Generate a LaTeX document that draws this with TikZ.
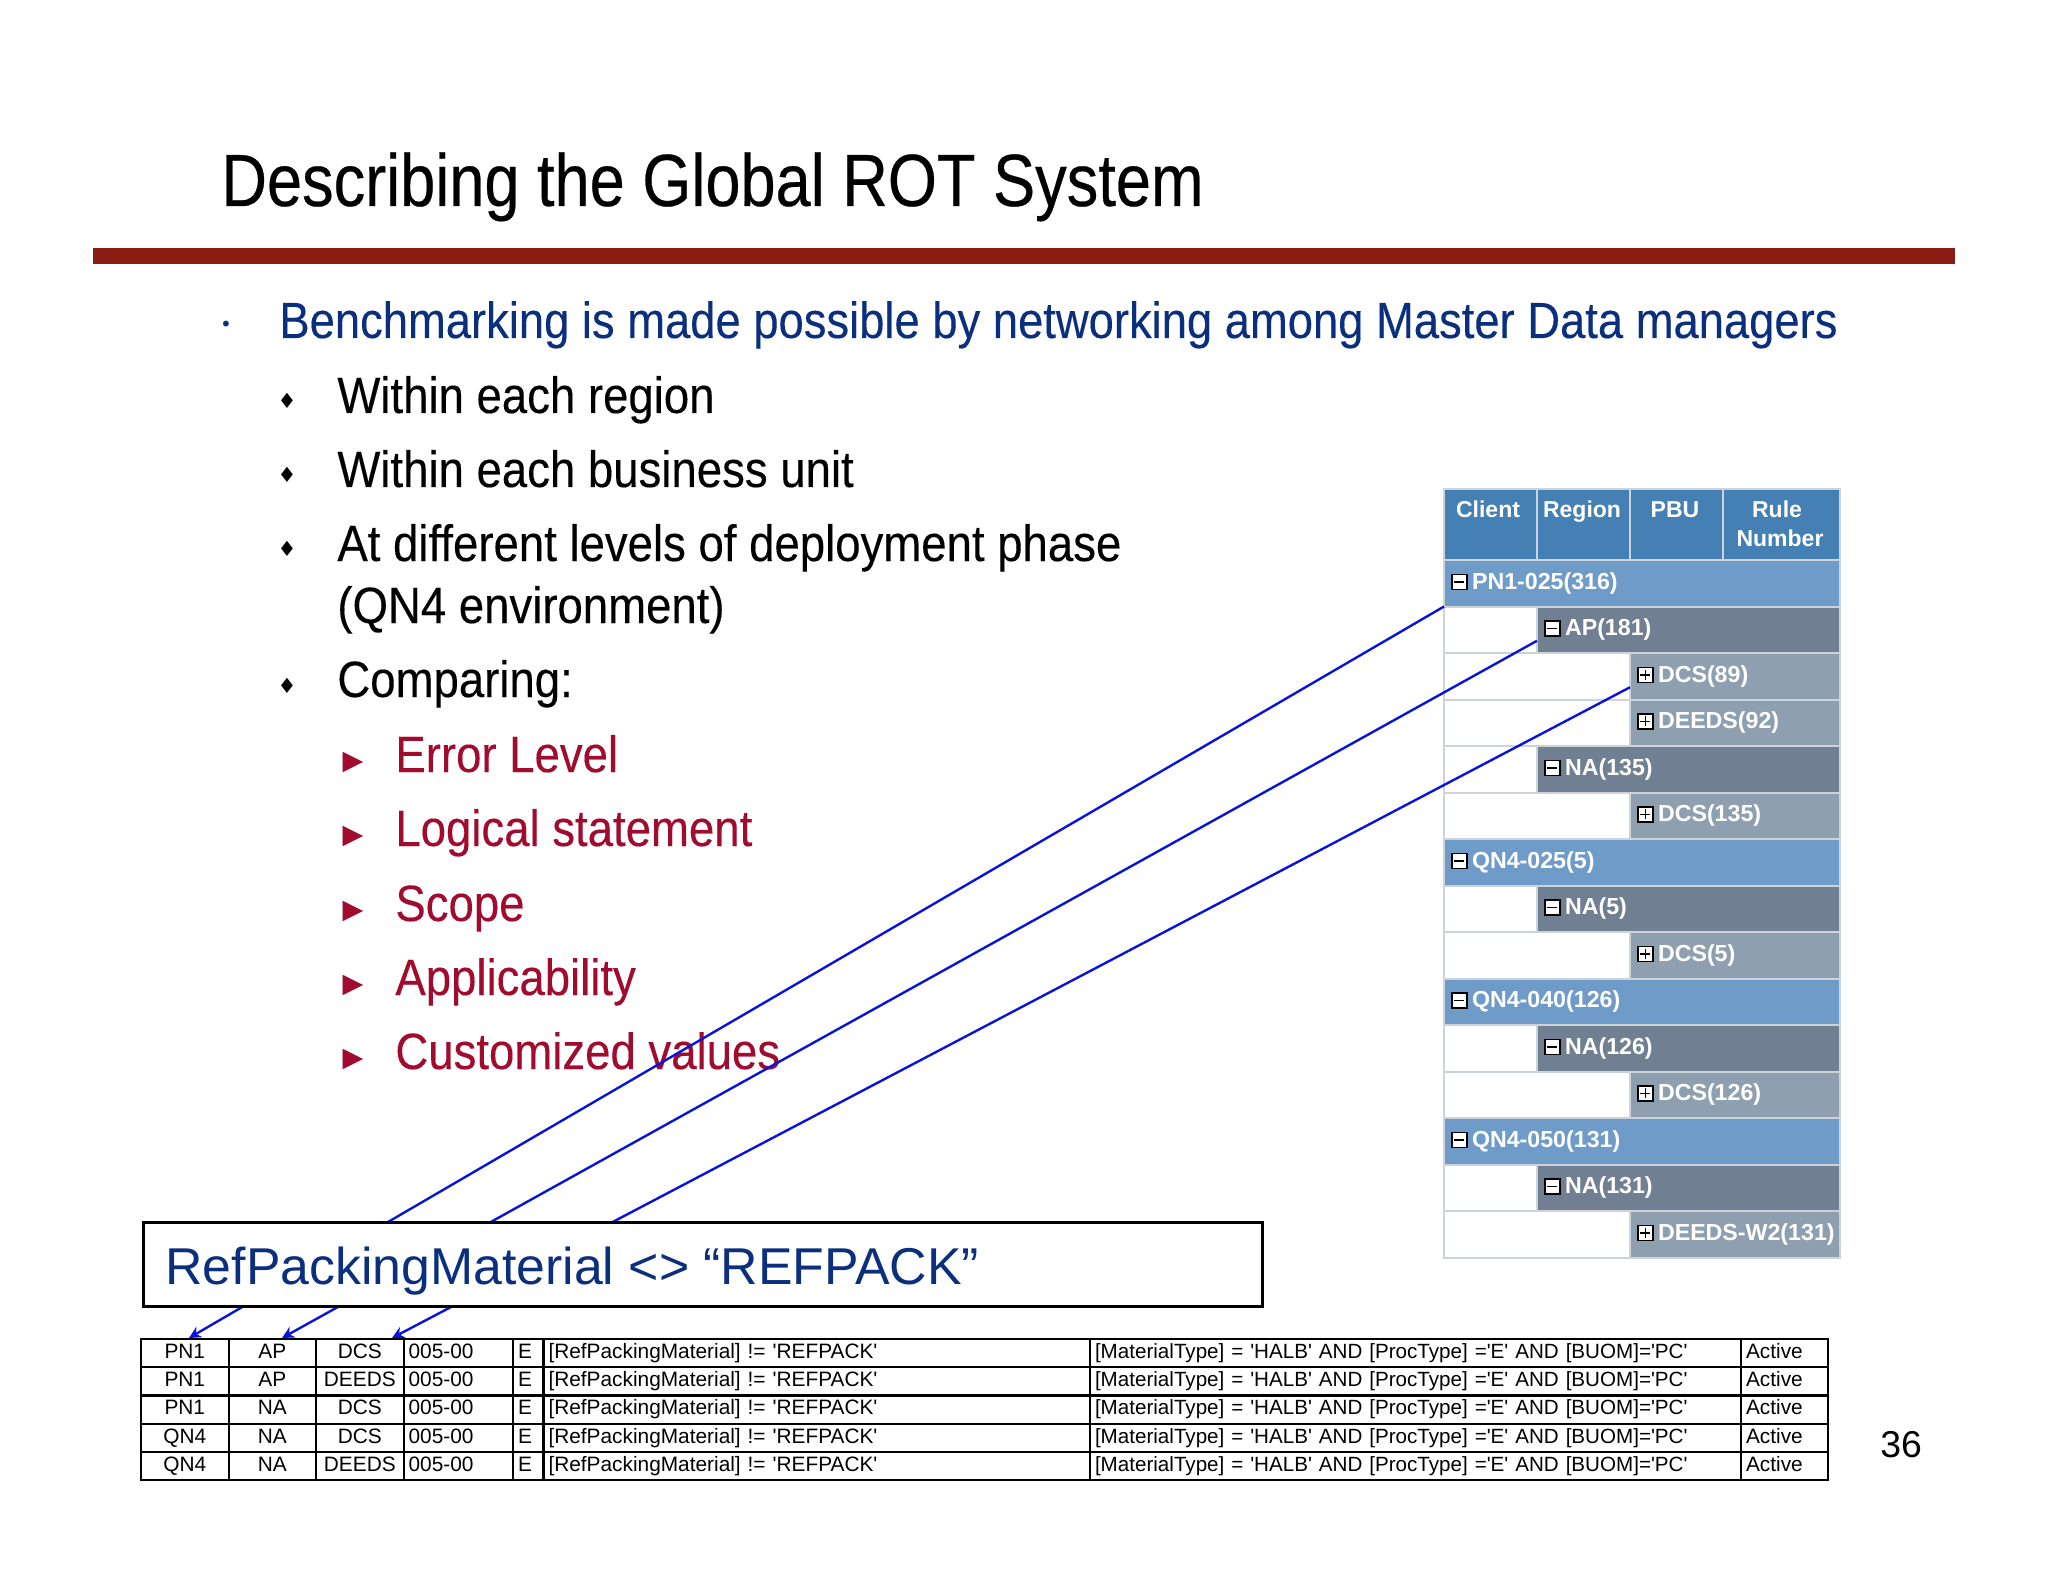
\documentclass[tikz,border=0pt]{standalone}
\usepackage{fontspec}
\usepackage{xcolor}
\usetikzlibrary{positioning,arrows.meta}
\setmainfont{Liberation Sans}
\newfontfamily\titlefont[FakeStretch=0.853,FakeBold=0.35]{Liberation Sans}
\newfontfamily\slidefont[FakeStretch=0.893,FakeBold=0.2]{Liberation Sans}
\newfontfamily\markfont{DejaVu Sans}
\definecolor{barred}{HTML}{8B1A10}
\definecolor{leadblue}{HTML}{0B2F7F}
\definecolor{subred}{HTML}{A00B2E}
\definecolor{linkblue}{HTML}{0A14D8}
\definecolor{headblue}{HTML}{4580B5}
\definecolor{groupblue}{HTML}{6E9BC8}
\definecolor{siteslate}{HTML}{707F91}
\definecolor{unitslate}{HTML}{8E9FAF}
\definecolor{gridgrey}{HTML}{CDD3D8}
\newcommand{\sq}{\textquotesingle}
\newcommand{\rulecheck}{[RefPackingMaterial] != \sq REFPACK\sq}
\newcommand{\rulescope}{\fontsize{10.3}{10.3}\selectfont [MaterialType] = \sq HALB\sq{} AND [ProcType] =\sq E\sq{} AND [BUOM]=\sq PC\sq}

\begin{document}
\begin{tikzpicture}[
    x=0.5pt, y=-0.5pt,
    titletext/.style={anchor=base west, inner sep=0pt, font=\titlefont\fontsize{37}{37}\selectfont},
    leadtext/.style={anchor=base west, inner sep=0pt, text=leadblue, font=\slidefont\fontsize{25.4}{25.4}\selectfont},
    subtext/.style={anchor=base west, inner sep=0pt, font=\slidefont\fontsize{25.5}{25.5}\selectfont},
    redtext/.style={anchor=base west, inner sep=0pt, text=subred, font=\slidefont\fontsize{25.5}{25.5}\selectfont},
    markdot/.style={anchor=base, inner sep=0pt, font=\markfont\fontsize{#1}{#1}\selectfont},
    frame/.style={rectangle, draw=gridgrey, fill=white, line width=1pt, anchor=north west, inner sep=0pt, outer sep=0pt, minimum height=23.25pt},
    headcell/.style={rectangle, draw=gridgrey, fill=headblue, line width=1pt, anchor=north west, inner sep=0pt, outer sep=0pt, minimum width=46.5pt, minimum height=35.5pt},
    headtext/.style={text=white, align=center, inner sep=0pt, font=\bfseries\fontsize{11.5}{14}\selectfont},
    groupbar/.style={fill=groupblue},
    sitebar/.style={fill=siteslate},
    unitbar/.style={fill=unitslate},
    levelbar/.style={rectangle, draw=gridgrey, line width=1pt, anchor=north west, inner sep=0pt, outer sep=0pt, minimum height=23.25pt},
    iconbox/.style={rectangle, draw=black, fill=white, line width=0.8pt, minimum size=7.5pt, inner sep=0pt, anchor=west},
    iconminus/.style={path picture={\draw[line width=0.8pt] ([xshift=1.2pt]path picture bounding box.west) -- ([xshift=-1.2pt]path picture bounding box.east);}},
    iconplus/.style={path picture={\draw[line width=0.8pt] ([xshift=1.2pt]path picture bounding box.west) -- ([xshift=-1.2pt]path picture bounding box.east) ([yshift=-1.2pt]path picture bounding box.north) -- ([yshift=1.2pt]path picture bounding box.south);}},
    leveltext/.style={text=white, inner sep=0pt, font=\bfseries\fontsize{11.6}{11.6}\selectfont},
    link/.style={-{Stealth[length=6pt,width=6pt]}, linkblue, line width=1.2pt},
    cell/.style={rectangle, draw=black, line width=1.1pt, anchor=north west, inner sep=0pt, outer sep=0pt, minimum height=14.1pt, text height=7.4pt, text depth=2pt, font=\fontsize{10.42}{10.42}\selectfont}
]
    \useasboundingbox (0,0) rectangle (2048,1582);
    \fill[white] (0,0) rectangle (2048,1582);

    \node[titletext] (title) at (221,206) {Describing the Global ROT System};
    \fill[barred] (93,248) rectangle (1955,264);

    % bullets
    \node[markdot=10, text=leadblue] (mark0) at (226,332) {•};
    \node[leadtext] (lead) at (279,338) {Benchmarking is made possible by networking among Master Data managers};
    \foreach \y/\id/\txt in {413/region/Within each region, 487/unit/Within each business unit, 561/level/At different levels of deployment phase, 697/compare/Comparing:} {
        \node[markdot=10.5] (mark\id) at (287,\y-4) {♦};
        \node[subtext] (\id) at (337,\y) {\txt};
    }
    \node[subtext] (level2) at (337,623) {(QN4 environment)};
    \foreach \y/\id/\txt in {772/error/Error Level, 846/logic/Logical statement, 921/scope/Scope, 995/apply/Applicability, 1069/custom/Customized values} {
        \node[markdot=13.5, text=subred] (mark\id) at (353,\y-3) {▶};
        \node[redtext] (\id) at (395,\y) {\txt};
    }

    % rule browser
    \foreach \x/\id/\txt in {1444/client/Client, 1537/region/Region, 1630/pbu/PBU} {
        \node[headcell] (\id) at (\x,489) {};
    }
    \node[headcell, minimum width=58.5pt] (rule) at (1723,489) {};
    \foreach \x/\id/\txt in {1488/client/Client, 1582/region/Region, 1675/pbu/PBU} {
        \node[headtext, anchor=base] (\id txt) at (\x,518) {\txt};
    }
    \node[headtext, anchor=base] (ruletxt) at (1777,518) {Rule};
    \node[headtext, anchor=base] (numbertxt) at (1780,546) {Number};
    \foreach \x/\w/\bar/\sign/\txt [count=\i] in {
        1444/396/groupbar/iconminus/{PN1-025(316)},
        1537/303/sitebar/iconminus/{AP(181)},
        1630/210/unitbar/iconplus/{DCS(89)},
        1630/210/unitbar/iconplus/{DEEDS(92)},
        1537/303/sitebar/iconminus/{NA(135)},
        1630/210/unitbar/iconplus/{DCS(135)},
        1444/396/groupbar/iconminus/{QN4-025(5)},
        1537/303/sitebar/iconminus/{NA(5)},
        1630/210/unitbar/iconplus/{DCS(5)},
        1444/396/groupbar/iconminus/{QN4-040(126)},
        1537/303/sitebar/iconminus/{NA(126)},
        1630/210/unitbar/iconplus/{DCS(126)},
        1444/396/groupbar/iconminus/{QN4-050(131)},
        1537/303/sitebar/iconminus/{NA(131)},
        1630/210/unitbar/iconplus/{DEEDS-W2(131)}} {
        \node[frame, minimum width=198pt] (frame\i) at (1444,{560+(\i-1)*46.5}) {};
        \node[levelbar, \bar, minimum width=\w*0.5pt] (lvl\i) at (\x,{560+(\i-1)*46.5}) {};
        \node[iconbox, \sign] (icon\i) at ([xshift=3.5pt,yshift=0.7pt]lvl\i.west) {};
        \node[leveltext, right=2pt of icon\i, yshift=-0.7pt] (lbl\i) {\txt};
    }

    % table
    \foreach \rowno/\cl/\rg/\pb in {1/PN1/AP/DCS, 2/PN1/AP/DEEDS, 3/PN1/NA/DCS, 4/QN4/NA/DCS, 5/QN4/NA/DEEDS} {
        \foreach \x/\w/\id/\txt/\al in {141/87.6/a/\cl/center, 228.6/87.4/b/\rg/center, 316/87.6/c/\pb/center, 403.6/109.4/d/005-00/left, 513/30.5/e/E/left, 543.5/546.5/f/\rulecheck/left, 1090/651/g/\rulescope/left, 1741/87/h/Active/left} {
            \node[cell, minimum width=\w*0.5pt, text width=\w*0.5pt-5pt, align=\al] (cell\rowno\id) at (\x,{1339+(\rowno-1)*28.2}) {\txt};
        }
    }
    \coordinate (tipa) at (189,1338);
    \coordinate (tipb) at (282,1338);
    \coordinate (tipc) at (392,1338);
    \coordinate (startb) at ([yshift=-5.5pt]lvl2.west);
    \coordinate (startc) at ([yshift=-5.5pt]lvl3.west);

    \draw[link] (lvl1.south west) -- (tipa);
    \draw[link] (startb) -- (tipb);
    \draw[link] (startc) -- (tipc);

    \node[rectangle, draw=black, fill=white, line width=1.5pt, anchor=north west, inner sep=0pt, outer sep=0pt, minimum width=559.5pt, minimum height=42pt] (callout) at (143.6,1222) {};
    \node[anchor=base west, inner sep=0pt, text=leadblue, font=\fontsize{25.9}{25.9}\selectfont] (callouttxt) at (165,1284) {RefPackingMaterial <> “REFPACK”};

    \node[anchor=base west, inner sep=0pt, font=\fontsize{18.7}{18.7}\selectfont] (pageno) at (1880,1457) {36};
\end{tikzpicture}
\end{document}
